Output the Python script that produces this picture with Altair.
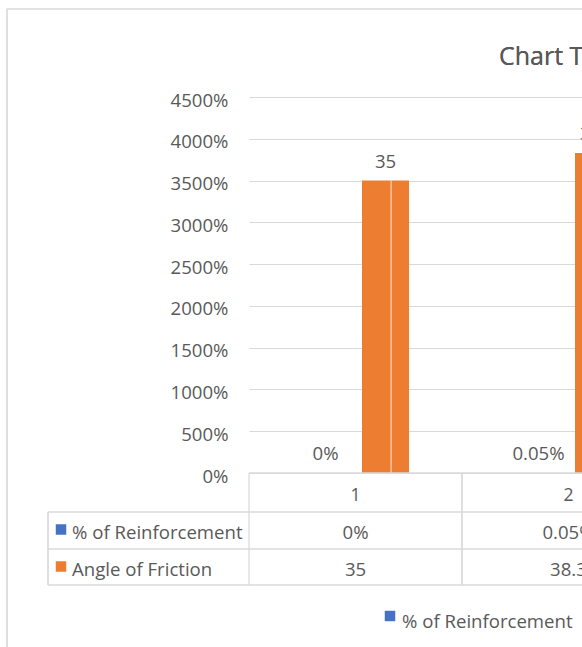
import altair as alt
import pandas as pd

# Chart values
categories = ["1", "2"]
reinforcement = [0.0, 0.0005]   # % of Reinforcement (fraction)
angle = [35.0, 38.3]            # Angle of Friction

series_names = ["% of Reinforcement", "Angle of Friction"]
series_colors = ["#4472C4", "#ED7D31"]

TEXT = "#595959"
GRID = "#D9D9D9"
FONT = "Open Sans"
FS = 18.6

rows = []
for c, r, a in zip(categories, reinforcement, angle):
    rows.append({"cat": c, "series": series_names[0], "value": r,
                 "label": f"{r * 100:g}%"})
    rows.append({"cat": c, "series": series_names[1], "value": a,
                 "label": f"{a:g}"})
df = pd.DataFrame(rows)
df_cat = pd.DataFrame({"cat": categories})

x_scale = alt.Scale(domain=categories, range=[0, 426], paddingInner=0, paddingOuter=0)
off_scale = alt.Scale(domain=series_names, paddingInner=0.2167, paddingOuter=0.883)
y_scale = alt.Scale(domain=[0, 45])
color_scale = alt.Scale(domain=series_names, range=series_colors)

base = alt.Chart(df)

frame = alt.Chart(df_cat).mark_rect(fillOpacity=0, stroke=GRID, strokeWidth=1.2).encode(
    x=alt.value(-242), x2=alt.value(1200), y=alt.value(-88), y2=alt.value(1200)
)

bars = base.mark_bar().encode(
    x=alt.X("cat:N", scale=x_scale, axis=None),
    xOffset=alt.XOffset("series:N", scale=off_scale),
    y=alt.Y("value:Q", scale=y_scale,
            axis=alt.Axis(format=".0%", values=[0, 5, 10, 15, 20, 25, 30, 35, 40, 45],
                          title=None, domain=False, ticks=False, grid=True,
                          gridColor=GRID, gridWidth=1.2,
                          labelFont=FONT, labelFontSize=FS, labelColor=TEXT,
                          labelPadding=21, labelOffset=3)),
    color=alt.Color("series:N", scale=color_scale, legend=None),
)

divider = base.transform_filter(alt.datum.series == series_names[1]).mark_rule(
    color="white", strokeWidth=1, opacity=0.8
).encode(
    x=alt.X("cat:N", bandPosition=0.667),
    y="value:Q",
    y2=alt.datum(0),
)

labels = base.mark_text(font=FONT, fontSize=FS, color=TEXT, baseline="alphabetic", dy=-13).encode(
    x=alt.X("cat:N"),
    xOffset=alt.XOffset("series:N"),
    y="value:Q",
    text="label:N",
)

# data table under the plot
v_lines = alt.layer(
    alt.Chart(df_cat).mark_rule(color=GRID, strokeWidth=1.2).encode(
        x=alt.X("cat:N", bandPosition=0), y=alt.value(376), y2=alt.value(488)),
    alt.Chart(df_cat).mark_rule(color=GRID, strokeWidth=1.2).encode(
        x=alt.X("cat:N", bandPosition=1), y=alt.value(376), y2=alt.value(488)),
)
left_line = alt.Chart(df_cat).mark_rule(color=GRID, strokeWidth=1.2).encode(
    x=alt.value(-201), y=alt.value(415), y2=alt.value(488))
h_lines = alt.layer(*[
    alt.Chart(df_cat).mark_rule(color=GRID, strokeWidth=1.2).encode(
        x=alt.value(-201), x2=alt.value(1200), y=alt.value(yv))
    for yv in (415, 452, 488)
] + [
    alt.Chart(df_cat).mark_rule(color=GRID, strokeWidth=1.2).encode(
        x=alt.value(0), x2=alt.value(1200), y=alt.value(376))
])

header = alt.Chart(df_cat).mark_text(font=FONT, fontSize=FS - 1, color=TEXT, baseline="middle").encode(
    x=alt.X("cat:N"), y=alt.value(399), text="cat:N")

row_reinf = base.transform_filter(alt.datum.series == series_names[0]).mark_text(
    font=FONT, fontSize=FS, color=TEXT, baseline="middle").encode(
    x=alt.X("cat:N"), y=alt.value(436), text="label:N")
row_angle = base.transform_filter(alt.datum.series == series_names[1]).mark_text(
    font=FONT, fontSize=FS, color=TEXT, baseline="middle").encode(
    x=alt.X("cat:N"), y=alt.value(473), text="label:N")

df_rows = pd.DataFrame({"series": series_names, "ypos": [432.5, 469.5], "ytext": [436, 473]})
row_keys = alt.Chart(df_rows).mark_square(size=110, opacity=1).encode(
    x=alt.value(-188), y=alt.Y("ypos:Q", scale=None),
    color=alt.Color("series:N", scale=color_scale, legend=None))
row_names = alt.Chart(df_rows).mark_text(
    font=FONT, fontSize=FS, color=TEXT, align="left", baseline="middle").encode(
    x=alt.value(-177), y=alt.Y("ytext:Q", scale=None), text="series:N")

# legend along the bottom
df_leg = pd.DataFrame({"series": series_names, "xk": [141, 345], "xt": [153, 357]})
leg_keys = alt.Chart(df_leg).mark_square(size=110, opacity=1).encode(
    x=alt.X("xk:Q", scale=None), y=alt.value(519),
    color=alt.Color("series:N", scale=color_scale, legend=None))
leg_text = alt.Chart(df_leg).mark_text(
    font=FONT, fontSize=FS, color=TEXT, align="left", baseline="middle").encode(
    x=alt.X("xt:Q", scale=None), y=alt.value(525), text="series:N")

title = alt.Chart(df_cat).mark_text(
    font=FONT, fontSize=25, color=TEXT, align="left", baseline="middle").encode(
    x=alt.value(250), y=alt.value(-40), text=alt.value("Chart Title"))

chart = alt.layer(
    frame, bars, divider, labels, h_lines, v_lines, left_line, header,
    row_reinf, row_angle, row_keys, row_names, leg_keys, leg_text, title,
).resolve_scale(x="shared").properties(
    width=333, height=376,
    autosize=alt.AutoSizeParams(type="none"),
    padding={"left": 249, "top": 97, "right": 0, "bottom": 174},
    background="white",
).configure_view(stroke=None)

chart.save("out.html", embed_options={"renderer": "svg", "actions": False})
